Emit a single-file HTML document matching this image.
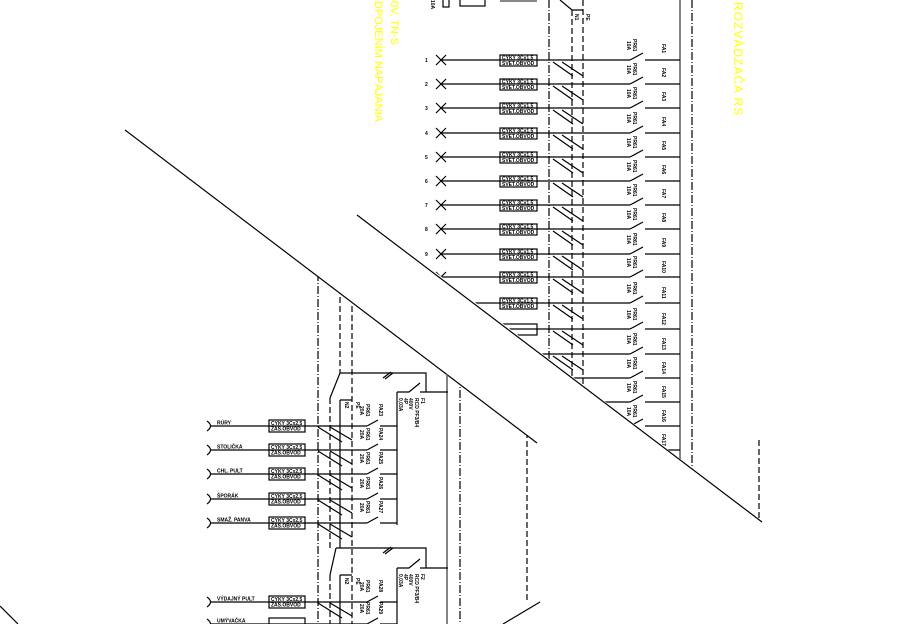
<!DOCTYPE html>
<html><head><meta charset="utf-8"><style>
html,body{margin:0;padding:0;background:#fff;}
svg{display:block;}
text{font-family:"Liberation Sans",sans-serif;font-size:5px;fill:#000;font-weight:bold;}
.y{fill:#ffff00;font-size:11px;font-weight:normal;}
.ln{stroke:#000;stroke-width:1.2;fill:none;}
.dd{stroke:#000;stroke-width:1.2;stroke-dasharray:6 3;fill:none;}
.dc{stroke:#000;stroke-width:1.2;stroke-dasharray:8 2 1 2;fill:none;}
</style></head><body>
<svg width="902" height="624" viewBox="0 0 902 624" xmlns="http://www.w3.org/2000/svg">
<defs>
<clipPath id="up"><polygon points="0,-60 902,628 902,0 0,0"/></clipPath>
<clipPath id="lo"><polygon points="0,35 902,720 0,720"/></clipPath>
</defs>

<text class="y" text-anchor="end" transform="translate(391,45) rotate(90)">3/N/PE AC 400/230V, TN-S</text>
<text class="y" text-anchor="end" transform="translate(375,122) rotate(90)">S AUTOMATICKÝM ODPOJENÍM NAPÁJANIA</text>
<text class="y" style="font-size:12px;letter-spacing:1px" transform="translate(734,2) rotate(90)">ROZVÁDZAČA RS</text>

<g clip-path="url(#up)">
<text transform="translate(431,0) rotate(90)">10A</text>
<rect class="ln" x="443" y="-2" width="6" height="9"/>
<rect class="ln" x="460" y="-2" width="25" height="8"/>
<rect x="500" y="-2" width="37" height="4" fill="#888"/>
<path class="dc" d="M549 0V624"/>
<path class="dd" d="M572 10V624M583 0V624"/>
<path class="ln" d="M560 0L572 10H583"/>
<text transform="translate(575,14) rotate(90)">N1</text>
<text transform="translate(586,14) rotate(90)">PE</text>
<path d="M680 0V624" stroke="#666" stroke-width="1.6"/>
<path class="dc" d="M692 0V624"/>
<path class="dd" d="M759 440V624"/>

<g transform="translate(0,60)"><text x="425" y="2">1</text><path class="ln" d="M436 -5L446 5M436 5L446 -5M441 0H630M630 0L643 -7M645 0H680M553 2L573 16M562 2L583 16"/><rect class="ln" x="500" y="-5" width="37" height="11"/><text x="502" y="-0.5">CYKY 3Cx1,5</text><text x="502" y="4.8">SVET.OBVOD</text><text transform="translate(633,-21) rotate(90)">PR61</text><text transform="translate(627,-19) rotate(90)">10A</text><text transform="translate(662,-16) rotate(90)">FA1</text></g>
<g transform="translate(0,84)"><text x="425" y="2">2</text><path class="ln" d="M436 -5L446 5M436 5L446 -5M441 0H630M630 0L643 -7M645 0H680M553 2L573 16M562 2L583 16"/><rect class="ln" x="500" y="-5" width="37" height="11"/><text x="502" y="-0.5">CYKY 3Cx1,5</text><text x="502" y="4.8">SVET.OBVOD</text><text transform="translate(633,-21) rotate(90)">PR61</text><text transform="translate(627,-19) rotate(90)">10A</text><text transform="translate(662,-16) rotate(90)">FA2</text></g>
<g transform="translate(0,108)"><text x="425" y="2">3</text><path class="ln" d="M436 -5L446 5M436 5L446 -5M441 0H630M630 0L643 -7M645 0H680M553 2L573 16M562 2L583 16"/><rect class="ln" x="500" y="-5" width="37" height="11"/><text x="502" y="-0.5">CYKY 3Cx1,5</text><text x="502" y="4.8">SVET.OBVOD</text><text transform="translate(633,-21) rotate(90)">PR61</text><text transform="translate(627,-19) rotate(90)">10A</text><text transform="translate(662,-16) rotate(90)">FA3</text></g>
<g transform="translate(0,133)"><text x="425" y="2">4</text><path class="ln" d="M436 -5L446 5M436 5L446 -5M441 0H630M630 0L643 -7M645 0H680M553 2L573 16M562 2L583 16"/><rect class="ln" x="500" y="-5" width="37" height="11"/><text x="502" y="-0.5">CYKY 3Cx1,5</text><text x="502" y="4.8">SVET.OBVOD</text><text transform="translate(633,-21) rotate(90)">PR61</text><text transform="translate(627,-19) rotate(90)">10A</text><text transform="translate(662,-16) rotate(90)">FA4</text></g>
<g transform="translate(0,157)"><text x="425" y="2">5</text><path class="ln" d="M436 -5L446 5M436 5L446 -5M441 0H630M630 0L643 -7M645 0H680M553 2L573 16M562 2L583 16"/><rect class="ln" x="500" y="-5" width="37" height="11"/><text x="502" y="-0.5">CYKY 3Cx1,5</text><text x="502" y="4.8">SVET.OBVOD</text><text transform="translate(633,-21) rotate(90)">PR61</text><text transform="translate(627,-19) rotate(90)">10A</text><text transform="translate(662,-16) rotate(90)">FA5</text></g>
<g transform="translate(0,181)"><text x="425" y="2">6</text><path class="ln" d="M436 -5L446 5M436 5L446 -5M441 0H630M630 0L643 -7M645 0H680M553 2L573 16M562 2L583 16"/><rect class="ln" x="500" y="-5" width="37" height="11"/><text x="502" y="-0.5">CYKY 3Cx1,5</text><text x="502" y="4.8">SVET.OBVOD</text><text transform="translate(633,-21) rotate(90)">PR61</text><text transform="translate(627,-19) rotate(90)">10A</text><text transform="translate(662,-16) rotate(90)">FA6</text></g>
<g transform="translate(0,205)"><text x="425" y="2">7</text><path class="ln" d="M436 -5L446 5M436 5L446 -5M441 0H630M630 0L643 -7M645 0H680M553 2L573 16M562 2L583 16"/><rect class="ln" x="500" y="-5" width="37" height="11"/><text x="502" y="-0.5">CYKY 3Cx1,5</text><text x="502" y="4.8">SVET.OBVOD</text><text transform="translate(633,-21) rotate(90)">PR61</text><text transform="translate(627,-19) rotate(90)">10A</text><text transform="translate(662,-16) rotate(90)">FA7</text></g>
<g transform="translate(0,229)"><text x="425" y="2">8</text><path class="ln" d="M436 -5L446 5M436 5L446 -5M441 0H630M630 0L643 -7M645 0H680M553 2L573 16M562 2L583 16"/><rect class="ln" x="500" y="-5" width="37" height="11"/><text x="502" y="-0.5">CYKY 3Cx1,5</text><text x="502" y="4.8">SVET.OBVOD</text><text transform="translate(633,-21) rotate(90)">PR61</text><text transform="translate(627,-19) rotate(90)">10A</text><text transform="translate(662,-16) rotate(90)">FA8</text></g>
<g transform="translate(0,254)"><text x="425" y="2">9</text><path class="ln" d="M436 -5L446 5M436 5L446 -5M441 0H630M630 0L643 -7M645 0H680M553 2L573 16M562 2L583 16"/><rect class="ln" x="500" y="-5" width="37" height="11"/><text x="502" y="-0.5">CYKY 3Cx1,5</text><text x="502" y="4.8">SVET.OBVOD</text><text transform="translate(633,-21) rotate(90)">PR61</text><text transform="translate(627,-19) rotate(90)">10A</text><text transform="translate(662,-16) rotate(90)">FA9</text></g>
<g transform="translate(0,277)"><text x="425" y="2">10</text><path class="ln" d="M436 -5L446 5M436 5L446 -5M441 0H630M630 0L643 -7M645 0H680M553 2L573 16M562 2L583 16"/><rect class="ln" x="500" y="-5" width="37" height="11"/><text x="502" y="-0.5">CYKY 3Cx1,5</text><text x="502" y="4.8">SVET.OBVOD</text><text transform="translate(633,-21) rotate(90)">PR61</text><text transform="translate(627,-19) rotate(90)">10A</text><text transform="translate(662,-16) rotate(90)">FA10</text></g>
<g transform="translate(0,303)"><path class="ln" d="M441 0H630M630 0L643 -7M645 0H680M553 2L573 16M562 2L583 16"/><rect class="ln" x="500" y="-5" width="37" height="11"/><text x="502" y="-0.5">CYKY 3Cx1,5</text><text x="502" y="4.8">SVET.OBVOD</text><text transform="translate(633,-21) rotate(90)">PR61</text><text transform="translate(627,-19) rotate(90)">10A</text><text transform="translate(662,-16) rotate(90)">FA11</text></g>
<g transform="translate(0,329)"><path class="ln" d="M441 0H630M630 0L643 -7M645 0H680M553 2L573 16M562 2L583 16"/><rect class="ln" x="500" y="-5" width="37" height="11"/><text transform="translate(633,-21) rotate(90)">PR61</text><text transform="translate(627,-19) rotate(90)">10A</text><text transform="translate(662,-16) rotate(90)">FA12</text></g>
<g transform="translate(0,354)"><path class="ln" d="M441 0H630M630 0L643 -7M645 0H680M553 2L573 16M562 2L583 16"/><text transform="translate(633,-21) rotate(90)">PR61</text><text transform="translate(627,-19) rotate(90)">10A</text><text transform="translate(662,-16) rotate(90)">FA13</text></g>
<g transform="translate(0,378)"><path class="ln" d="M441 0H630M630 0L643 -7M645 0H680M553 2L573 16M562 2L583 16"/><text transform="translate(633,-21) rotate(90)">PR61</text><text transform="translate(627,-19) rotate(90)">10A</text><text transform="translate(662,-16) rotate(90)">FA14</text></g>
<g transform="translate(0,402)"><path class="ln" d="M441 0H630M630 0L643 -7M645 0H680"/><text transform="translate(633,-21) rotate(90)">PR61</text><text transform="translate(627,-19) rotate(90)">10A</text><text transform="translate(662,-16) rotate(90)">FA15</text></g>
<g transform="translate(0,426)"><path class="ln" d="M441 0H630M630 0L643 -7M645 0H680"/><text transform="translate(633,-21) rotate(90)">PR61</text><text transform="translate(627,-19) rotate(90)">10A</text><text transform="translate(662,-16) rotate(90)">FA16</text></g>
<g transform="translate(0,450)"><path class="ln" d="M441 0H630M630 0L643 -7M645 0H680"/><text transform="translate(662,-16) rotate(90)">FA17</text></g>
</g>

<path class="ln" d="M357 215L762 522"/>
<path class="ln" d="M125 130L537 443"/>
<path class="ln" d="M0 606L18 624"/>
<path class="ln" d="M540 602L503 624"/>

<g clip-path="url(#lo)">
<path class="dc" d="M318 0V624M460 0V624"/>
<path class="dd" d="M340 0V373M330 398V548M330 575V624M352 0V624M527 0V600"/>
<path d="M447 0V624" stroke="#666" stroke-width="1.6"/>
<path class="ln" d="M340 373H426V392H448M340 373L330 398M340 400V548M340 400H352M397 392V525M397 392H409M409 392L420 383M420 392H426M383 378L391 372M385 379L393 373"/>
<text transform="translate(421,398) rotate(90)">F1</text>
<text transform="translate(415,398) rotate(90)">RCD PF3/B4</text>
<text transform="translate(409,398) rotate(90)">400V</text>
<text transform="translate(404,398) rotate(90)">4P</text>
<text transform="translate(399,398) rotate(90)">0,03A</text>
<text transform="translate(345,402) rotate(90)">N2</text>
<text transform="translate(356,402) rotate(90)">PE</text>
<path class="ln" d="M336 548H426V568H448M336 548L330 575M340 575V624M340 575H352M397 568V624M397 568H409M409 568L420 559M420 568H426M383 553L391 547M385 554L393 548"/>
<text transform="translate(421,574) rotate(90)">F2</text>
<text transform="translate(415,574) rotate(90)">RCD PF3/B4</text>
<text transform="translate(409,574) rotate(90)">400V</text>
<text transform="translate(404,574) rotate(90)">4P</text>
<text transform="translate(399,574) rotate(90)">0,03A</text>
<text transform="translate(345,578) rotate(90)">N2</text>
<text transform="translate(356,578) rotate(90)">PE</text>

<g transform="translate(0,426)"><path class="ln" d="M207 -5Q214 0 207 5M211 0H367M367 0L378 -6M380 0H397M318 1L342 16M330 1L352 14"/><rect class="ln" x="269" y="-6" width="36" height="12"/><text x="217" y="-1.5">RÚRY</text><text x="271" y="-1">CYKY 3Cx2,5</text><text x="271" y="4.5">ZAS.OBVOD</text><text transform="translate(366,-22) rotate(90)">PR61</text><text transform="translate(360,-20) rotate(90)">20A</text><text transform="translate(379,-22) rotate(90)">PA23</text></g>
<g transform="translate(0,450)"><path class="ln" d="M207 -5Q214 0 207 5M211 0H367M367 0L378 -6M380 0H397M318 1L342 16M330 1L352 14"/><rect class="ln" x="269" y="-6" width="36" height="12"/><text x="217" y="-1.5">STOLIČKA</text><text x="271" y="-1">CYKY 3Cx2,5</text><text x="271" y="4.5">ZAS.OBVOD</text><text transform="translate(366,-22) rotate(90)">PR61</text><text transform="translate(360,-20) rotate(90)">20A</text><text transform="translate(379,-22) rotate(90)">PA24</text></g>
<g transform="translate(0,474)"><path class="ln" d="M207 -5Q214 0 207 5M211 0H367M367 0L378 -6M380 0H397M318 1L342 16M330 1L352 14"/><rect class="ln" x="269" y="-6" width="36" height="12"/><text x="217" y="-1.5">CHL. PULT</text><text x="271" y="-1">CYKY 3Cx2,5</text><text x="271" y="4.5">ZAS.OBVOD</text><text transform="translate(366,-22) rotate(90)">PR61</text><text transform="translate(360,-20) rotate(90)">20A</text><text transform="translate(379,-22) rotate(90)">PA25</text></g>
<g transform="translate(0,499)"><path class="ln" d="M207 -5Q214 0 207 5M211 0H367M367 0L378 -6M380 0H397M318 1L342 16M330 1L352 14"/><rect class="ln" x="269" y="-6" width="36" height="12"/><text x="217" y="-1.5">ŠPORÁK</text><text x="271" y="-1">CYKY 3Cx2,5</text><text x="271" y="4.5">ZAS.OBVOD</text><text transform="translate(366,-22) rotate(90)">PR61</text><text transform="translate(360,-20) rotate(90)">20A</text><text transform="translate(379,-22) rotate(90)">PA26</text></g>
<g transform="translate(0,523)"><path class="ln" d="M207 -5Q214 0 207 5M211 0H367M367 0L378 -6M380 0H397M318 1L342 16M330 1L352 14"/><rect class="ln" x="269" y="-6" width="36" height="12"/><text x="217" y="-1.5">SMAŽ. PANVA</text><text x="271" y="-1">CYKY 3Cx2,5</text><text x="271" y="4.5">ZAS.OBVOD</text><text transform="translate(366,-22) rotate(90)">PR61</text><text transform="translate(360,-20) rotate(90)">20A</text><text transform="translate(379,-22) rotate(90)">PA27</text></g>
<g transform="translate(0,602)"><path class="ln" d="M207 -5Q214 0 207 5M211 0H367M367 0L378 -6M380 0H397M318 1L342 16M330 1L352 14"/><rect class="ln" x="269" y="-6" width="36" height="12"/><text x="217" y="-1.5">VÝDAJNÝ PULT</text><text x="271" y="-1">CYKY 3Cx2,5</text><text x="271" y="4.5">ZAS.OBVOD</text><text transform="translate(366,-22) rotate(90)">PR61</text><text transform="translate(360,-20) rotate(90)">20A</text><text transform="translate(379,-22) rotate(90)">PA28</text></g>
<g transform="translate(0,624)"><path class="ln" d="M207 -5Q214 0 207 5M211 0H367M367 0L378 -6M380 0H397"/><rect class="ln" x="269" y="-6" width="36" height="12"/><text x="217" y="-1.5">UMÝVAČKA</text><text transform="translate(366,-22) rotate(90)">PR61</text><text transform="translate(360,-20) rotate(90)">20A</text><text transform="translate(379,-22) rotate(90)">PA29</text></g>
</g>
</svg>
</body></html>
